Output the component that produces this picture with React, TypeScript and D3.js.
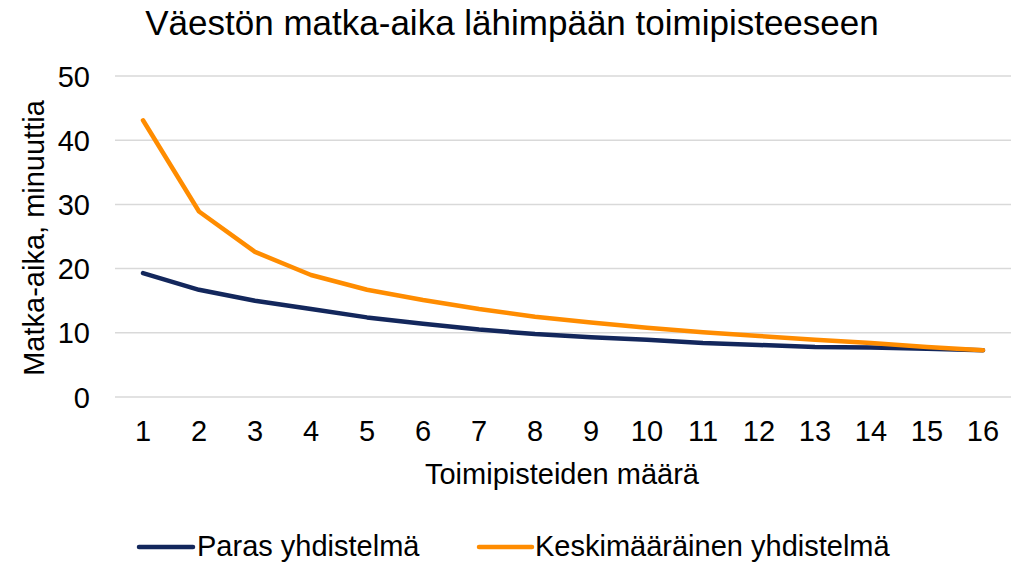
import React from "react";
import * as d3 from "d3";

const categories = ["1","2","3","4","5","6","7","8","9","10","11","12","13","14","15","16"];
const parasValues = [19.3, 16.7, 15.0, 13.7, 12.4, 11.4, 10.5, 9.8, 9.3, 8.9, 8.4, 8.1, 7.8, 7.7, 7.5, 7.3];
const keskiValues = [43.1, 28.9, 22.6, 19.0, 16.7, 15.1, 13.7, 12.5, 11.6, 10.8, 10.1, 9.5, 8.9, 8.4, 7.8, 7.3];
const yTicks = [0, 10, 20, 30, 40, 50];
const seriesNames = ["Paras yhdistelmä", "Keskimääräinen yhdistelmä"];
const colors = ["#13275C", "#FF8C00"];

export default function App() {
  const W = 1025, H = 562;
  const left = 115, right = 1011, top = 76, bottom = 397;
  const x = d3.scaleBand<string>().domain(categories).range([left, right]);
  const y = d3.scaleLinear().domain([0, 50]).range([bottom, top]);
  const cx = (c: string) => (x(c) as number) + x.bandwidth() / 2;
  const line = d3.line<number>().x((_, i) => cx(categories[i])).y((v) => y(v));
  const font = "'Liberation Sans', Arial, sans-serif";
  const series = [parasValues, keskiValues];
  const legend = [
    { x1: 139, x2: 193, tx: 197 },
    { x1: 479, x2: 532, tx: 535 },
  ];
  const fs = 29;
  return (
    <svg width={W} height={H} style={{ position: "absolute", left: 0, top: 0, display: "block" }} fontFamily={font}>
      <rect width={W} height={H} fill="#fff" />
      <text x={512} y={35} textAnchor="middle" fontSize={35} fill="#000">Väestön matka-aika lähimpään toimipisteeseen</text>
      {yTicks.map((t) => (
        <g key={t}>
          <line x1={left} x2={right} y1={y(t)} y2={y(t)} stroke="#d9d9d9" strokeWidth={1.5} />
          <text x={90} y={y(t) + 10.5} textAnchor="end" fontSize={fs} fill="#000">{t}</text>
        </g>
      ))}
      {categories.map((c) => (
        <text key={c} x={cx(c)} y={441} textAnchor="middle" fontSize={fs} fill="#000">{c}</text>
      ))}
      <text x={562} y={484} textAnchor="middle" fontSize={fs} fill="#000">Toimipisteiden määrä</text>
      <text transform={`translate(44, 238) rotate(-90)`} textAnchor="middle" fontSize={fs} fill="#000">Matka-aika, minuuttia</text>
      {series.map((s, i) => (
        <path key={i} d={line(s) as string} fill="none" stroke={colors[i]} strokeWidth={4.5} strokeLinecap="round" strokeLinejoin="round" />
      ))}
      {seriesNames.map((n, i) => (
        <g key={n}>
          <line x1={legend[i].x1} x2={legend[i].x2} y1={547} y2={547} stroke={colors[i]} strokeWidth={4.5} strokeLinecap="round" />
          <text x={legend[i].tx} y={556} fontSize={fs} fill="#000">{n}</text>
        </g>
      ))}
    </svg>
  );
}
